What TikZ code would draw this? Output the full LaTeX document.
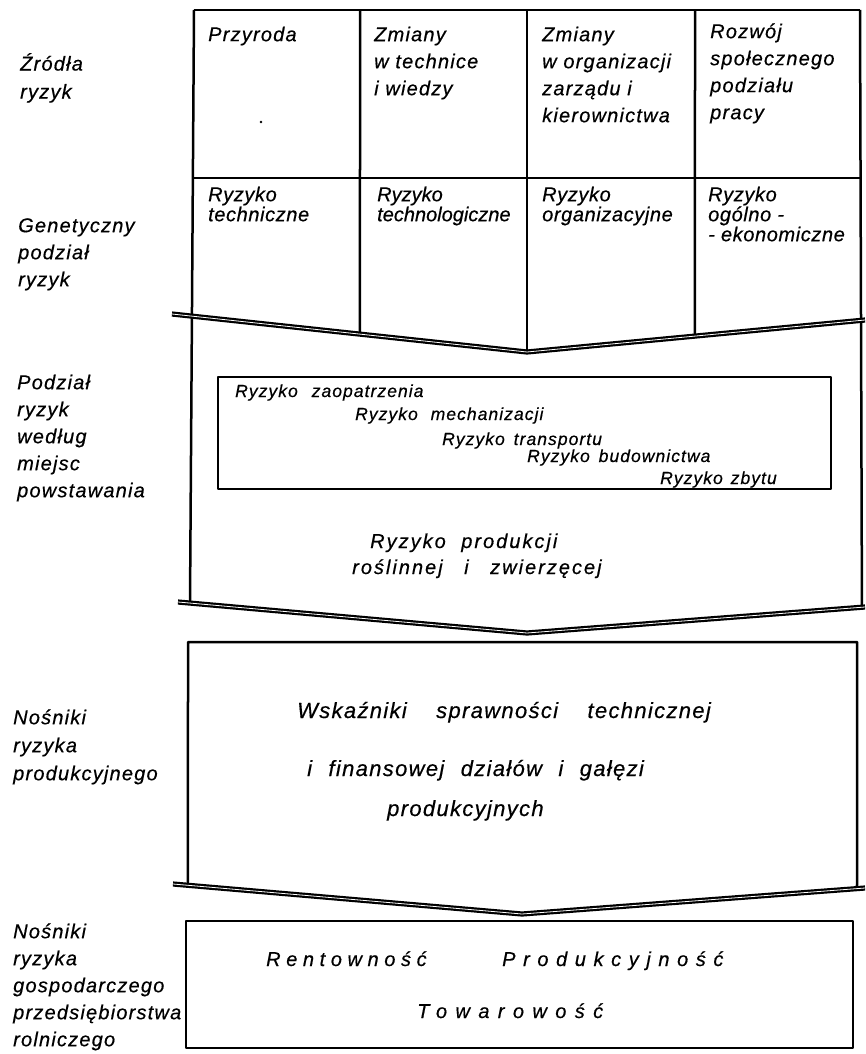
\documentclass[tikz,border=0pt]{standalone}
\usepackage{fontspec}
\setmainfont{Liberation Sans Italic}
\newfontfamily\famA[LetterSpace=6,FakeBold=0.5]{Liberation Sans Italic}
\newfontfamily\famH[LetterSpace=3,FakeBold=0.5]{Liberation Sans Italic}
\newfontfamily\famI[LetterSpace=0,FakeBold=0.5]{Liberation Sans Italic}
\newfontfamily\famB[LetterSpace=6,FakeBold=0.5]{Liberation Sans Italic}
\newfontfamily\famC[LetterSpace=10,FakeBold=0.5]{Liberation Sans Italic}
\newfontfamily\famD[LetterSpace=6,FakeBold=0.5]{Liberation Sans Italic}
\newfontfamily\famE[LetterSpace=28,FakeBold=0.5]{Liberation Sans Italic}
\newfontfamily\famF[LetterSpace=38,FakeBold=0.5]{Liberation Sans Italic}
\newfontfamily\famG[LetterSpace=42,FakeBold=0.5]{Liberation Sans Italic}
\newcommand{\Tst}{\rule{0pt}{16pt}}
\begin{document}
\begin{tikzpicture}[x=1pt,y=-1pt,
  frame/.style={line width=2.5pt, line join=round},
  chev/.style={line width=2.2pt, double=white, double distance=0.8pt, line join=miter},
  cell/.style={anchor=north west, inner sep=0pt, align=left, font=\famA\fontsize{20}{27}\selectfont},
  cellb/.style={anchor=north west, inner sep=0pt, align=left, font=\famH\fontsize{20}{20}\selectfont},
  lab/.style={anchor=north west, inner sep=0pt, align=left, font=\famA\fontsize{20}{27}\selectfont},
  labb/.style={anchor=north west, inner sep=0pt, align=left, font=\famA\fontsize{20}{28}\selectfont},
  small/.style={anchor=base west, inner sep=0pt, font=\famB\fontsize{17.5}{20}\selectfont},
  mid/.style={anchor=base west, inner sep=0pt, font=\famC\fontsize{20}{24}\selectfont},
  big/.style={anchor=base west, inner sep=0pt, font=\famD\fontsize{22}{26}\selectfont},
  wide/.style={anchor=base west, inner sep=0pt, font=\famE\fontsize{20}{24}\selectfont}]
\useasboundingbox (0,0) rectangle (865,1054);

% chevron corner points
\coordinate (c1l) at (172,314); \coordinate (c1v) at (527,352); \coordinate (c1r) at (865,320);
\coordinate (c2l) at (178,602); \coordinate (c2v) at (527,633); \coordinate (c2r) at (865,607);
\coordinate (c3l) at (173,884); \coordinate (c3v) at (522,914); \coordinate (c3r) at (865,888);

% section 1-2 frame
\coordinate (tl) at (194,10); \coordinate (tr) at (860,10);
\draw[frame] (tl) -- (tr);
\draw[frame] (tl) -- (intersection of 194,10--190,603 and c2l--c2v);
\draw[frame] (tr) -- (intersection of 860,10--862,607 and c2v--c2r);
\draw[frame] (194,178) -- (860,178);
\draw[frame] (360,10) -- (intersection of 360,0--360,1 and c1l--c1v);
\draw[frame] (527,10) -- (c1v);
\draw[frame] (695,10) -- (intersection of 695,0--695,1 and c1v--c1r);

% box 4
\draw[frame] (intersection of 188,0--188,1 and c3l--c3v) -- (188,642) -- (857,642)
  -- (intersection of 857,0--857,1 and c3v--c3r);
% box 5
\draw[frame] (186,921) rectangle (853,1048);
% inner box
\draw[frame, line width=2.1pt] (218,377) rectangle (831,489);

% chevrons
\draw[chev] (c1l) -- (c1v) -- (c1r);
\draw[chev] (c2l) -- (c2v) -- (c2r);
\draw[chev] (c3l) -- (c3v) -- (c3r);

% stray dot
\fill (261,122) circle (1.3pt);

% left labels
\node[lab] (l1) at (20,53) {\Tst Źródła\\[1pt]ryzyk};
\node[lab] (l2) at (18,216) {\Tst Genetyczny\\podział\\ryzyk};
\node[lab] (l3) at (17,373) {\Tst Podział\\ryzyk\\według\\miejsc\\powstawania};
\node[labb] (l4) at (13,708) {\Tst Nośniki\\ryzyka\\produkcyjnego};
\node[lab] (l5) at (13,922) {\Tst Nośniki\\ryzyka\\gospodarczego\\przedsiębiorstwa\\rolniczego};

% top row
\node[cell] (a1) at (208,25) {\Tst Przyroda};
\node[cell] (a2) at (374,25) {\Tst Zmiany\\w technice\\i wiedzy};
\node[cell] (a3) at (542,25) {\Tst Zmiany\\w organizacji\\zarządu i\\kierownictwa};
\node[cell] (a4) at (710,22) {\Tst Rozwój\\społecznego\\podziału\\pracy};

% second row
\node[cellb] (b1) at (208,185) {\Tst Ryzyko\\techniczne};
\node[cellb, font=\famI\fontsize{20}{20}\selectfont] (b2) at (377,185) {\Tst Ryzyko\\technologiczne};
\node[cellb] (b3) at (542,185) {\Tst Ryzyko\\organizacyjne};
\node[cellb] (b4) at (708,185) {\Tst Ryzyko\\ogólno -\\- ekonomiczne};

% inner box texts
\node[small] (r1) at (235,397) {Ryzyko\hspace{8pt} zaopatrzenia};
\node[small] (r2) at (355,420) {Ryzyko\hspace{7pt} mechanizacji};
\node[small] (r3) at (442,445) {Ryzyko\hspace{3pt} transportu};
\node[small] (r4) at (527,462) {Ryzyko\hspace{3pt} budownictwa};
\node[small] (r5) at (660,484) {Ryzyko\hspace{2pt} zbytu};

\node[mid] (p1) at (370,548) {Ryzyko\hspace{8pt} produkcji};
\node[mid] (p2) at (352,574) {roślinnej\hspace{14pt} i\hspace{14pt} zwierzęcej};

% section 4
\node[big] (w1) at (297,718) {Wskaźniki\hspace{22pt} sprawności\hspace{22pt} technicznej};
\node[big] (w2) at (307,776) {i\hspace{9pt} finansowej\hspace{9pt} działów\hspace{9pt} i\hspace{9pt} gałęzi};
\node[big] (w3) at (387,816) {produkcyjnych};

% section 5
\node[wide] (s1) at (266,966) {Rentowność};
\node[wide, font=\famF\fontsize{20}{24}\selectfont] (s2) at (502,966) {Produkcyjność};
\node[wide, font=\famG\fontsize{20}{24}\selectfont] (s3) at (417,1018) {Towarowość};
\end{tikzpicture}
\end{document}
